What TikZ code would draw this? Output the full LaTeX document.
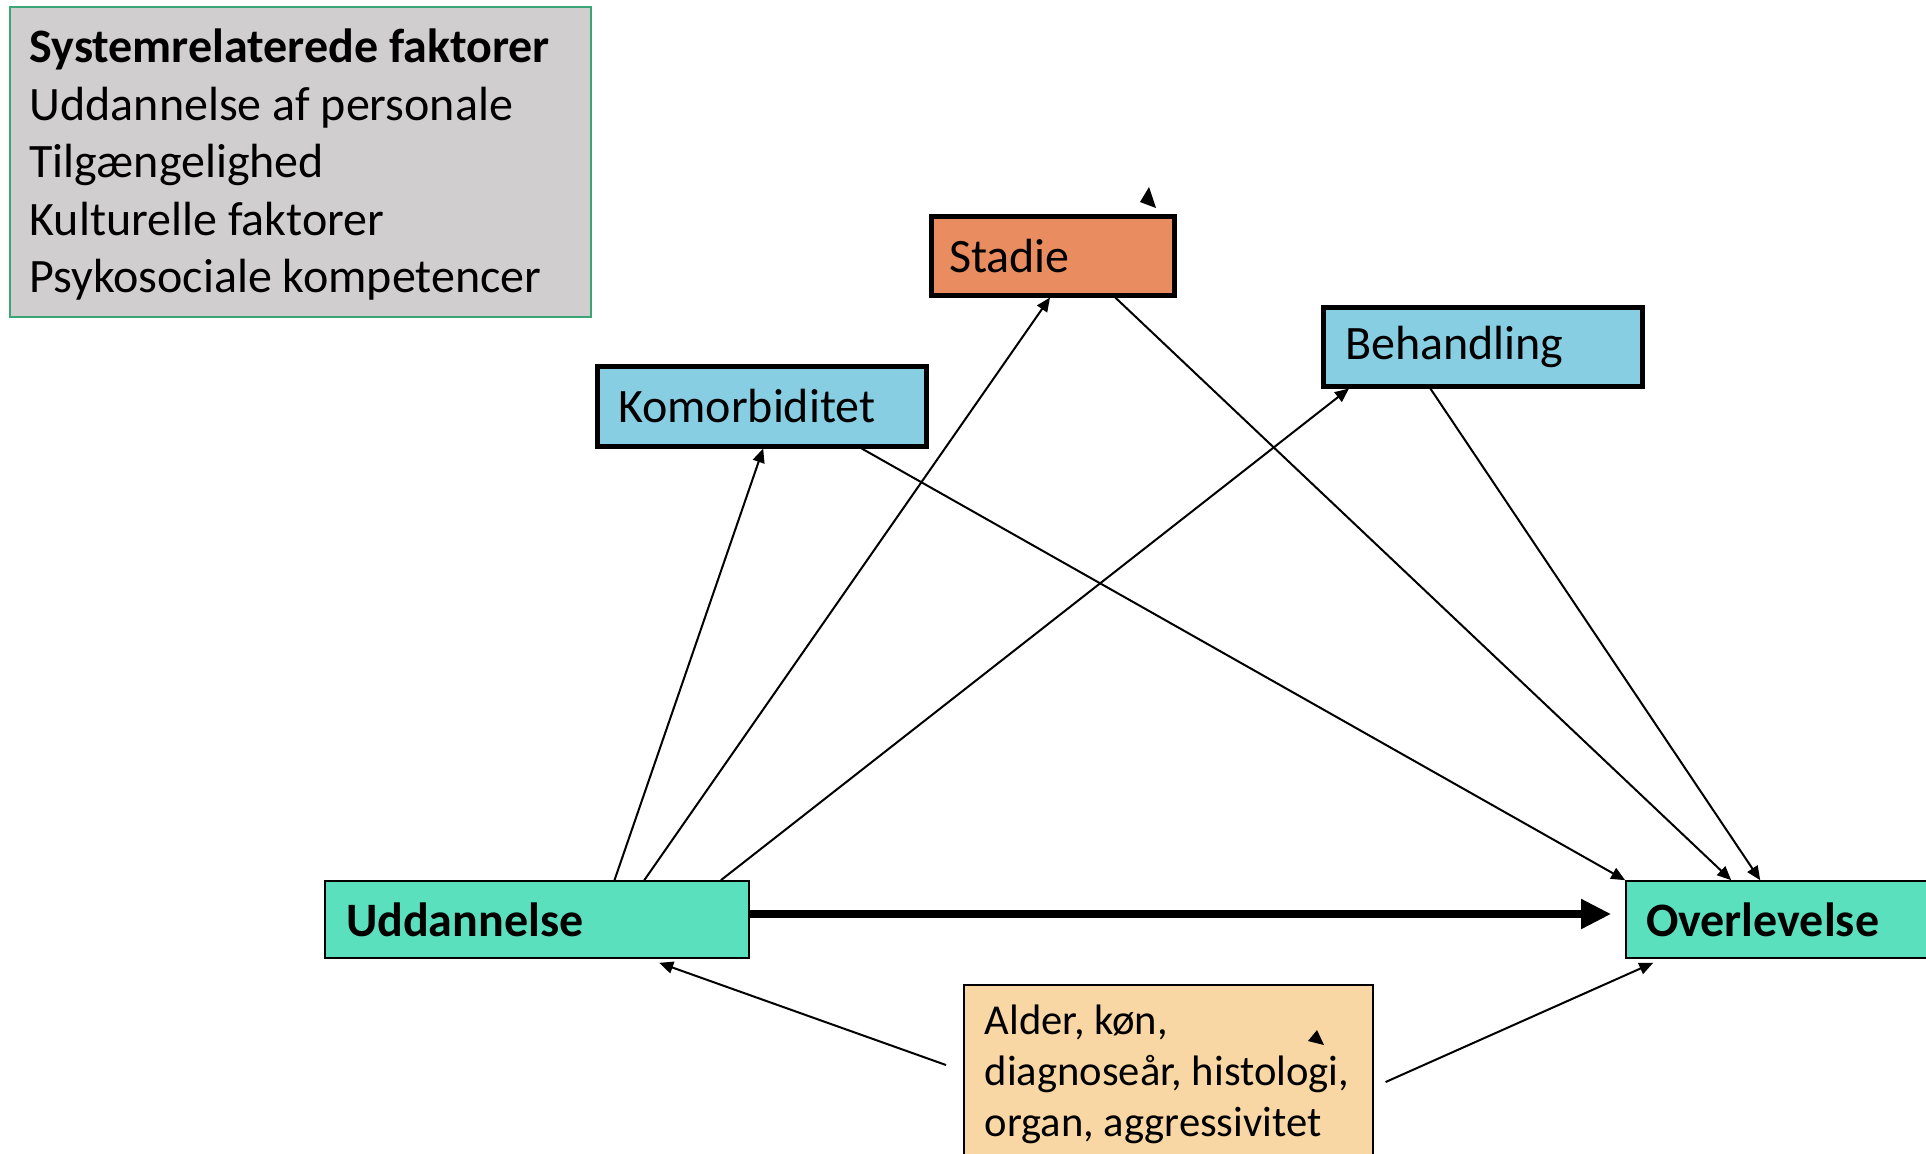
\documentclass[tikz,border=0pt]{standalone}
\usepackage{fontspec}
\setmainfont{Carlito}
\usetikzlibrary{arrows.meta,calc}
\definecolor{graybg}{HTML}{D0CECE}
\definecolor{greenbd}{HTML}{3AA676}
\definecolor{orangebg}{HTML}{E98C60}
\definecolor{bluebg}{HTML}{88CEE3}
\definecolor{mintbg}{HTML}{5BE0BE}
\definecolor{peachbg}{HTML}{F8D7A4}
\newcommand{\boxfont}[2]{\fontsize{#1}{#2}\selectfont}
\begin{document}
\begin{tikzpicture}[x=0.5pt,y=-0.5pt,
  tight/.style={execute at begin node={\spaceskip=0.226em\relax}},
  box/.style={draw=black, rectangle, inner ysep=0pt, align=left, font=\boxfont{24}{28.8}, tight},
  thickbox/.style={box, line width=2.5pt},
  thinbox/.style={box, line width=0.8pt},
  conn/.style={line width=1pt, -{Triangle[length=7pt,width=6pt]}},
  mainconn/.style={line width=4pt, -{Triangle[length=15pt,width=14pt]}}]
\clip (0,0) rectangle (1926,1153);
\fill[white] (0,0) rectangle (1926,1153);

% system factors box
\node[box, draw=greenbd, line width=0.8pt, fill=graybg, minimum width=290.5pt, minimum height=155pt] (sys) at (300.5,162) {};
\node[anchor=west, inner sep=0pt, align=left, text width=271pt, font=\boxfont{24}{28.75}, tight] (systxt) at ([shift={(10pt,-1.5pt)}]sys.west)
  {\textbf{Systemrelaterede faktorer}\\Uddannelse af personale\\Tilgængelighed\\Kulturelle faktorer\\Psykosociale kompetencer};

% mediators
\node[thickbox, fill=orangebg, minimum width=121.5pt, minimum height=39.5pt, inner xsep=9pt, text width=103.5pt] (stadie) at (1052.5,255.5) {Stadie};
\node[thickbox, fill=bluebg, minimum width=164.5pt, minimum height=40pt, inner xsep=10.5pt, text width=143.5pt] (kom) at (761.5,406) {Komorbiditet};
\node[thickbox, fill=bluebg, minimum width=159.5pt, minimum height=39.5pt, inner xsep=11pt, text width=137.5pt] (beh) at (1482.5,346.5) {Behandling};

% exposure and outcome
\node[thinbox, fill=mintbg, minimum width=212pt, minimum height=38.5pt, inner xsep=10.5pt, text width=191pt, font=\boxfont{24}{28.8}\bfseries] (udd) at (537,919.5) {Uddannelse};
\node[thinbox, fill=mintbg, minimum width=212pt, minimum height=38.5pt, inner xsep=10pt, text width=192pt, font=\boxfont{24}{28.8}\bfseries] (ovl) at (1838,919.5) {Overlevelse};

% confounders
\node[thinbox, fill=peachbg, anchor=north west, minimum width=204.5pt, inner xsep=10.5pt, inner ysep=10pt, text width=183.5pt, font=\boxfont{21.3}{25.5}] (fac) at (963,984)
  {Alder, køn,\\diagnoseår, histologi,\\organ, aggressivitet};

% connectors
\draw[conn] ($(udd.north west)!0.682!(udd.north east)$) -- ($(kom.south west)!0.505!(kom.south east)$);
\draw[conn] ($(udd.north west)!0.752!(udd.north east)$) -- ($(stadie.south west)!0.49!(stadie.south east)$);
\draw[conn] ($(udd.north west)!0.932!(udd.north east)$) -- ($(beh.south west)!0.088!(beh.south east)$);
\draw[conn] ($(kom.south west)!0.80!(kom.south east)$) -- (ovl.north west);
\draw[conn] ($(stadie.south west)!0.753!(stadie.south east)$) -- ([xshift=53pt]ovl.north west);
\draw[conn] ($(beh.south west)!0.339!(beh.south east)$) -- ([xshift=67.5pt]ovl.north west);
\draw[mainconn] ([yshift=2.75pt]udd.east) -- ([shift={(-7pt,2.75pt)}]ovl.west);
\draw[conn] ([shift={(-8.5pt,-40.5pt)}]fac.north west) -- ([shift={(167.5pt,-2pt)}]udd.south west);
\draw[conn] ([shift={(6pt,-49pt)}]fac.north east) -- ([shift={(14pt,-2pt)}]ovl.south west);

% stray arrow tips
\fill (1149,187) -- (1140,202) -- (1156,208) -- cycle;
\fill (1317,1030) -- (1308,1041) -- (1324,1045) -- cycle;
\end{tikzpicture}
\end{document}
